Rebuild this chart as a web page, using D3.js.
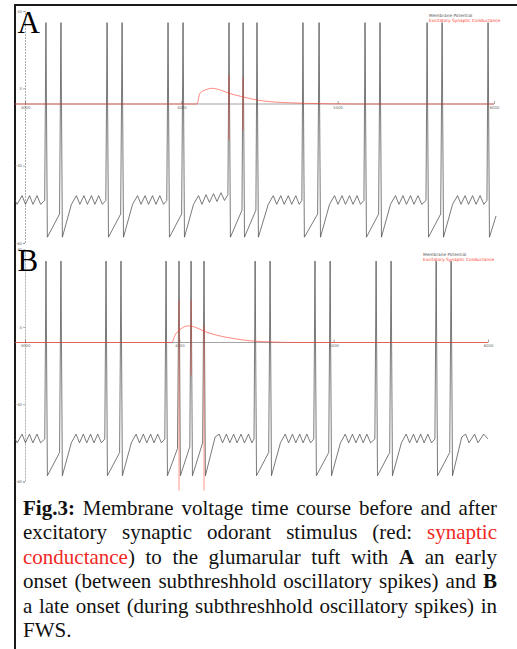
<!DOCTYPE html>
<html><head><meta charset="utf-8">
<script src="https://cdn.jsdelivr.net/npm/d3@7"></script>
<style>body{margin:0;background:#fff}svg{display:block}</style>
</head><body>
<svg id="fig" width="517" height="649"></svg>
<script>
// ---------------- DATA ----------------
const timeTicks = [3000, 4000, 5000, 6000];          // ms
const voltTicks = [40, 0, -40, -80];                   // mV
const legendLabels = ["Membrane Potential", "Excitatory Synaptic Conductance"];

// Panel A: membrane potential [t (ms), V (mV)]
const traceA = [
[2936,-58],[2950,-60],[2981,-55.5],[3003,-60],[3029,-55.5],[3051,-60],[3077,-55.5],[3100,-60],[3126,-58],
[3134,34],[3143,-77],[3221,-65],[3230,34],[3239,-77],[3297,-60],
[3329,-55.5],[3351,-60],[3377,-55.5],[3399,-60],[3425,-55.5],[3447,-60],[3471,-55.5],[3495,-60],[3517,-58],
[3525,34],[3534,-77],[3612,-65],[3621,34],[3630,-77],[3688,-60],
[3720,-55.5],[3742,-60],[3768,-55.5],[3790,-60],[3816,-55.5],[3838,-60],[3862,-55.5],[3886,-60],[3907,-58],
[3915,34],[3924,-77],[4002,-65],[4011,34],[4020,-77],[4078,-60],
[4110,-55.5],[4132,-60],[4158,-55],[4180,-59],[4206,-54.5],[4228,-58.5],[4254,-54],[4276,-58],[4298,-55],
[4305,34],[4314,-77],[4388,-63],[4395,34],[4404,-77],[4477,-63],[4484,34],[4493,-77],[4556,-60],
[4588,-55.5],[4610,-60],[4636,-55.5],[4658,-60],[4684,-55.5],[4706,-60],[4732,-55.5],[4754,-60],[4771,-58],
[4778,34],[4787,-77],[4872,-65],[4881,34],[4890,-77],[4948,-60],
[4980,-55.5],[5002,-60],[5028,-55.5],[5050,-60],[5076,-55.5],[5098,-60],[5124,-55.5],[5146,-60],[5168,-58],
[5175,34],[5184,-77],[5262,-65],[5271,34],[5280,-77],[5338,-60],
[5370,-55.5],[5392,-60],[5418,-55.5],[5440,-60],[5466,-55.5],[5488,-60],[5514,-55.5],[5538,-60],[5565,-58],
[5572,34],[5581,-77],[5659,-65],[5668,34],[5677,-77],[5735,-60],
[5767,-55.5],[5789,-60],[5815,-55.5],[5837,-60],[5863,-55.5],[5885,-60],[5911,-55.5],[5935,-60],[5955,-58],
[5962,34],[5971,-77],[6013,-66]
];
// Panel A: synaptic conductance [t (ms), g (nS)]
const condA = [
[2936,0],[4100,0],[4119,1.07],[4165,1.47],[4194,1.57],[4250,1.4],[4305,1.07],[4389,0.73],[4484,0.4],
[4571,0.23],[4678,0.13],[4782,0.07],[4955,0.02],[5100,0],[6000,0]
];
// Panel A: conductance transients [t, gHigh, gLow]
const transA = [[4305,2.9,-3.6],[4395,2.6,-2.6]];

// Panel B: membrane potential
const traceB = [
[2935,-58],[2950,-60],[2981,-55.5],[3003,-60],[3029,-55.5],[3051,-60],[3078,-55.5],[3101,-60],[3128,-58],
[3136,34],[3145,-77],[3224,-65],[3233,34],[3242,-77],[3300,-60],
[3331,-55.5],[3353,-60],[3378,-55.5],[3400,-60],[3425,-55.5],[3447,-60],[3471,-55.5],[3495,-60],[3517,-58],
[3525,34],[3534,-77],[3613,-65],[3622,34],[3631,-77],[3689,-60],
[3720,-55.5],[3742,-60],[3767,-55.5],[3789,-60],[3814,-55.5],[3836,-60],[3860,-55.5],[3884,-60],[3906,-58],
[3914,34],[3923,-77],[3988,-63],[3998,34],[4007,-77],[4068,-62],[4076,34],[4085,-77],[4151,-60],
[4160,34],[4169,-77],[4232,-57],
[4258,-55.5],[4280,-60],[4305,-55.5],[4327,-60],[4352,-55.5],[4374,-60],[4400,-55.5],[4422,-60],[4448,-55.5],[4470,-60],[4484,-58],
[4491,34],[4500,-77],[4579,-65],[4588,34],[4597,-77],[4655,-60],
[4686,-55.5],[4708,-60],[4733,-55.5],[4755,-60],[4780,-55.5],[4802,-60],[4826,-55.5],[4850,-60],[4871,-58],
[4879,34],[4888,-77],[4968,-65],[4977,34],[4986,-77],[5044,-60],
[5075,-55.5],[5097,-60],[5122,-55.5],[5144,-60],[5169,-55.5],[5191,-60],[5215,-55.5],[5239,-60],[5267,-58],
[5275,34],[5284,-77],[5363,-65],[5372,34],[5381,-77],[5439,-60],
[5470,-55.5],[5492,-60],[5517,-55.5],[5539,-60],[5564,-55.5],[5586,-60],[5610,-55.5],[5634,-60],[5656,-58],
[5664,34],[5673,-77],[5752,-65],[5761,34],[5770,-77],[5830,-57],
[5855,-55.5],[5877,-60],[5913,-55.5],[5935,-60],[5972,-55.5],[6000,-58]
];
const condB = [
[2935,0],[3951,0],[3972,0.73],[4005,1.3],[4058,1.66],[4100,1.55],[4156,1.15],[4242,0.73],[4350,0.4],
[4458,0.17],[4588,0.06],[4750,0],[6000,0]
];
const transB = [[3998,4.2,-14.8],[4076,4.2,-3.3],[4160,1.7,-14.8]];

// Caption (words; segments: [text, style]  style: "" normal, "b" bold, "r" red)
const captionLines = [
 [[["Fig.3:","b"]],[["Membrane",""]],[["voltage",""]],[["time",""]],[["course",""]],[["before",""]],[["and",""]],[["after",""]]],
 [[["excitatory",""]],[["synaptic",""]],[["odorant",""]],[["stimulus",""]],[["(red:",""]],[["synaptic","r"]]],
 [[["conductance","r"],[")",""]],[["to",""]],[["the",""]],[["glumarular",""]],[["tuft",""]],[["with",""]],[["A","b"]],[["an",""]],[["early",""]]],
 [[["onset",""]],[["(between",""]],[["subthreshhold",""]],[["oscillatory",""]],[["spikes)",""]],[["and",""]],[["B","b"]]],
 [[["a",""]],[["late",""]],[["onset",""]],[["(during",""]],[["subthreshhold",""]],[["oscillatory",""]],[["spikes)",""]],[["in",""]]],
 [[["FWS.",""]]]
];

// ---------------- DRAW ----------------
const svg = d3.select("#fig");
const RED = "#ff3a2a";
const TRACE = "#4d4d4d";

// frame
svg.append("line").attr("x1",14).attr("x2",517).attr("y1",5).attr("y2",5).attr("stroke","#1a1a1a").attr("stroke-width",2);
svg.append("line").attr("x1",15).attr("x2",15).attr("y1",4).attr("y2",649).attr("stroke","#1a1a1a").attr("stroke-width",2);

const panels = [
 {label:"A", trace:traceA, cond:condA, trans:transA, x1:494, yTop:11, yBot:243, base:104, labelY:33, legX:429, legY:17, tStart:2936},
 {label:"B", trace:traceB, cond:condB, trans:transB, x1:488, yTop:249.5, yBot:481.5, base:342.5, labelY:271, legX:423, legY:256, tStart:2935}
];

panels.forEach(p => {
  const g = svg.append("g");
  const x = d3.scaleLinear().domain([3000,6000]).range([25,p.x1]);
  const y = d3.scaleLinear().domain([-80,40]).range([p.yBot,p.yTop]);
  const gy = d3.scaleLinear().domain([0,1]).range([p.base,p.base-10]);

  // y axis
  const ya = g.append("g").attr("transform","translate(25,0)")
     .call(d3.axisLeft(y).tickValues(voltTicks).tickSize(2).tickPadding(1).tickFormat(d3.format("d")));
  ya.select(".domain").attr("stroke","#777").attr("stroke-width",0.6).attr("stroke-dasharray","2,1");
  ya.selectAll(".tick line").attr("stroke","#777").attr("stroke-width",0.6);
  ya.selectAll("text").attr("font-size",3.8).attr("font-family","DejaVu Sans").attr("fill","#666");

  // x axis at conductance baseline
  g.append("line").attr("x1",x(p.tStart)).attr("x2",p.x1).attr("y1",p.base).attr("y2",p.base)
    .attr("stroke","#666").attr("stroke-width",0.6);
  const xa = g.append("g").attr("transform",`translate(0,${p.base})`)
     .call(d3.axisBottom(x).tickValues(timeTicks).tickSize(-3).tickSizeOuter(0).tickPadding(2).tickFormat(d3.format("d")));
  xa.select(".domain").remove();
  xa.selectAll(".tick line").attr("stroke","#666").attr("stroke-width",0.6);
  xa.selectAll("text").attr("font-size",3.8).attr("font-family","DejaVu Sans").attr("fill","#666");

  // membrane potential trace
  g.append("path").datum(p.trace)
    .attr("d", d3.line().x(d=>x(d[0])).y(d=>y(d[1])))
    .attr("fill","none").attr("stroke",TRACE).attr("stroke-width",0.75).attr("stroke-linejoin","round");

  // conductance
  g.append("path").datum(p.cond)
    .attr("d", d3.line().x(d=>x(d[0])).y(d=>gy(d[1])).curve(d3.curveMonotoneX))
    .attr("fill","none").attr("stroke",RED).attr("stroke-width",0.8).attr("opacity",0.75);
  g.selectAll(".trans").data(p.trans).enter().append("line")
    .attr("x1",d=>x(d[0])).attr("x2",d=>x(d[0])).attr("y1",d=>gy(d[1])).attr("y2",d=>gy(d[2]))
    .attr("stroke",RED).attr("stroke-width",0.9).attr("opacity",0.6);

  // legend
  g.append("text").attr("x",p.legX).attr("y",p.legY).text(legendLabels[0])
    .attr("font-size",4.3).attr("font-family","DejaVu Sans").attr("fill","#555");
  g.append("text").attr("x",p.legX).attr("y",p.legY+4.5).text(legendLabels[1])
    .attr("font-size",4.3).attr("font-family","DejaVu Sans").attr("fill",RED);

  // panel letter
  g.append("text").attr("x",17.5).attr("y",p.labelY).text(p.label)
    .attr("font-size",31).attr("font-family","Liberation Serif, Times New Roman, serif").attr("fill","#000");
});

// caption with justification
const capLeft = 23, capRight = 497, capY0 = 515, capDy = 24.4, capFS = 21;
const cap = svg.append("g").attr("font-family","Liberation Serif, Times New Roman, serif").attr("font-size",capFS);
captionLines.forEach((words, li) => {
  const yy = capY0 + li*capDy;
  const nodes = words.map(segs => {
    const t = cap.append("text").attr("y",yy);
    segs.forEach(([s,st]) => {
      t.append("tspan").text(s)
       .attr("font-weight", st==="b" ? "bold" : "normal")
       .attr("fill", st==="r" ? "#f0281e" : "#111");
    });
    return t;
  });
  const widths = nodes.map(n => n.node().getComputedTextLength());
  const total = d3.sum(widths);
  const last = li === captionLines.length-1;
  const gap = (last || words.length<2) ? capFS*0.25 : (capRight-capLeft-total)/(words.length-1);
  let cx = capLeft;
  nodes.forEach((n,i) => { n.attr("x",cx); cx += widths[i] + gap; });
});
</script>
</body></html>
